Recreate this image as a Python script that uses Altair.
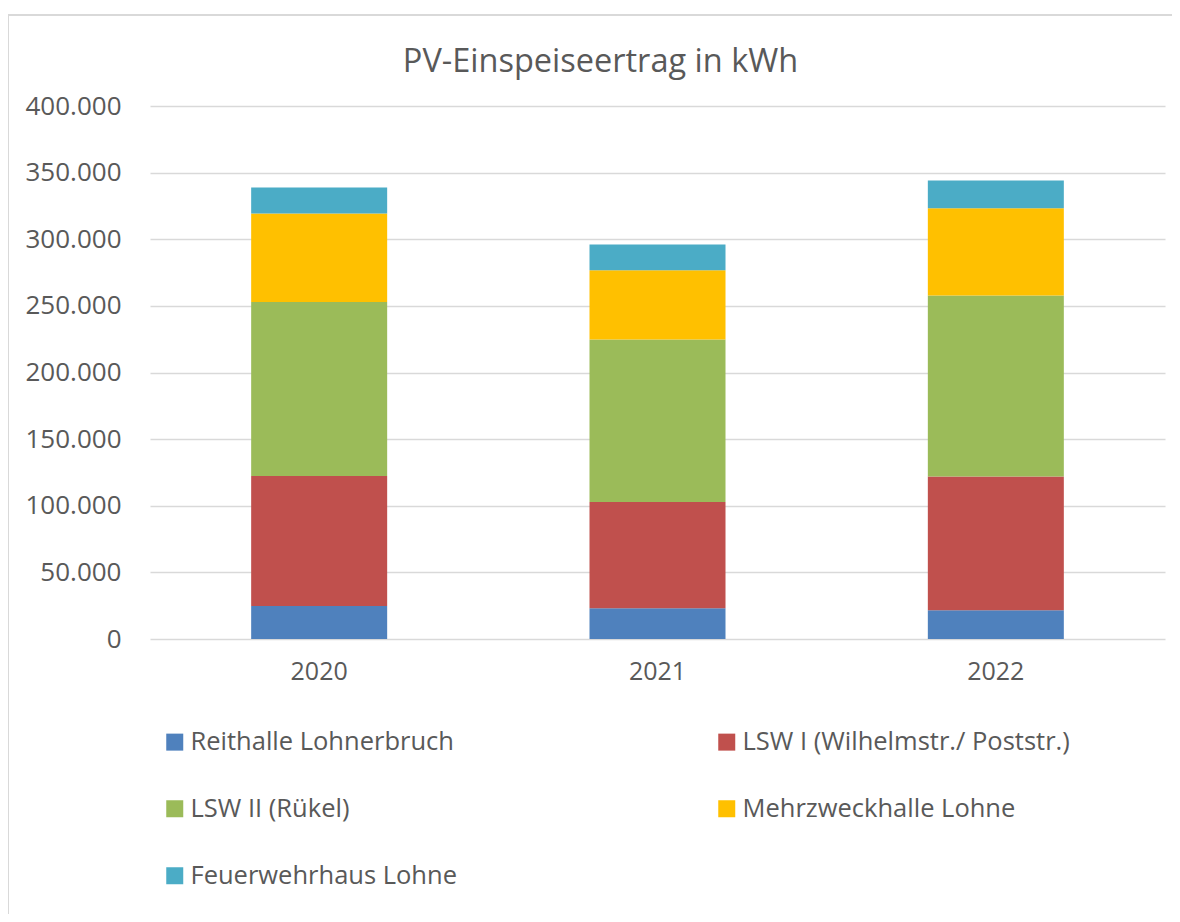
import altair as alt
import pandas as pd

years = ["2020", "2021", "2022"]
series = [
    "Reithalle Lohnerbruch",
    "LSW I (Wilhelmstr./ Poststr.)",
    "LSW II (Rükel)",
    "Mehrzweckhalle Lohne",
    "Feuerwehrhaus Lohne",
]
reithalle = [24800, 23000, 21500]
lsw1 = [97600, 79900, 100400]
lsw2 = [130600, 121900, 135900]
mehrzweck = [66400, 52000, 65500]
feuerwehr = [19500, 19300, 20800]
colors = ["#4F81BD", "#C0504D", "#9BBB59", "#FFC000", "#4BACC6"]
y_ticks = [0, 50000, 100000, 150000, 200000, 250000, 300000, 350000, 400000]
title_text = "PV-Einspeiseertrag in kWh"

rows = []
for si, (name, vals) in enumerate(zip(series, [reithalle, lsw1, lsw2, mehrzweck, feuerwehr])):
    for y, v in zip(years, vals):
        rows.append({"Jahr": y, "Anlage": name, "kWh": v, "idx": si})
df = pd.DataFrame(rows)

W, H = 1015, 533
PL, PT, PR, PB = 142, 98, 7, 275
FONT = "Open Sans"
TXT = "#595959"

bars = alt.Chart(df).mark_bar(size=136).encode(
    x=alt.X("Jahr:N", title=None,
            scale=alt.Scale(paddingInner=0.6, paddingOuter=0.3),
            axis=alt.Axis(labelAngle=0, labelFontSize=25, labelColor=TXT, labelFont=FONT,
                          labelPadding=20, ticks=False, domain=False, grid=False)),
    y=alt.Y("kWh:Q", title=None, stack="zero",
            scale=alt.Scale(domain=[0, 400000], nice=False),
            axis=alt.Axis(values=y_ticks, labelFontSize=26, labelColor=TXT, labelFont=FONT,
                          labelPadding=29, ticks=False, domain=False,
                          gridColor="#d9d9d9", gridWidth=1.5,
                          labelExpr="replace(format(datum.value, ','), ',', '.')")),
    color=alt.Color("Anlage:N", scale=alt.Scale(domain=series, range=colors),
                    legend=alt.Legend(title=None, orient="none", legendX=12, legendY=623,
                                      direction="horizontal", columns=2, columnPadding=257,
                                      rowPadding=40, labelLimit=0,
                                      symbolType="square", symbolSize=289, symbolStrokeWidth=0,
                                      labelFontSize=25.5, labelColor=TXT, labelFont=FONT,
                                      labelOffset=3, padding=0, symbolOpacity=1)),
    order=alt.Order("idx:Q", sort="ascending"),
)

title = alt.Chart(pd.DataFrame({"t": [title_text]})).mark_text(
    font=FONT, fontSize=32.5, color=TXT, align="center", baseline="middle"
).encode(text="t:N", x=alt.value(W / 2 - 57), y=alt.value(-44))

border_left = alt.Chart(df).mark_rule(color="#d9d9d9", strokeWidth=2).encode(
    x=alt.value(-142), y=alt.value(-91), y2=alt.value(H + PB))
border_top = alt.Chart(df).mark_rule(color="#d9d9d9", strokeWidth=2).encode(
    x=alt.value(-142), x2=alt.value(W + PR + 20), y=alt.value(-91))

chart = alt.layer(bars, title, border_left, border_top).properties(
    width=W, height=H,
    padding={"left": PL, "top": PT, "right": PR, "bottom": PB},
    autosize=alt.AutoSizeParams(type="none"),
).configure_view(stroke=None)

chart.save("out.html", embed_options={"renderer": "svg", "actions": False})
